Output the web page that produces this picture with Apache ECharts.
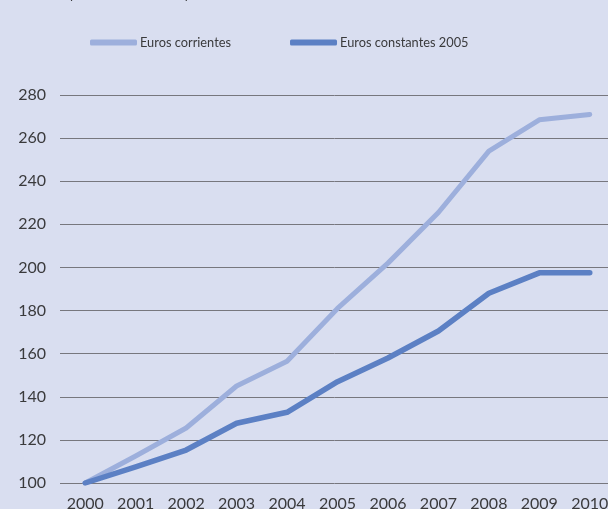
<!DOCTYPE html>
<html>
<head>
<meta charset="utf-8">
<script src="https://cdn.jsdelivr.net/npm/echarts@6/dist/echarts.min.js"></script>
<style>
  html, body { margin: 0; padding: 0; background: #d9def0; }
  #chart { width: 608px; height: 509px; }
</style>
</head>
<body>
<div id="chart"></div>
<script>
// Años del eje horizontal
const years = ['2000', '2001', '2002', '2003', '2004', '2005', '2006', '2007', '2008', '2009', '2010'];

// Índice 2000 = 100
const eurosCorrientes = [100, 112.5, 125.5, 145, 156.5, 181, 202, 225.5, 254, 268.5, 271];
const eurosConstantes = [100, 107.5, 115.3, 127.7, 132.8, 147, 158, 170.5, 188, 197.5, 197.5];

const seriesNames = ['Euros corrientes', 'Euros constantes 2005'];
const titleText = 'Gasto por alumno en la pública (números índice 2000 = 100)';

const colorLight = '#9dafdc';
const colorDark = '#5c80c4';
const fontFamily = 'Lato, "Open Sans", sans-serif';
const textColor = '#3a3a3c';

const chart = echarts.init(document.getElementById('chart'), null, { renderer: 'canvas' });

chart.setOption({
  backgroundColor: '#d9def0',
  animation: false,
  graphic: [{
    type: 'text',
    left: 28,
    top: -14,
    style: {
      text: titleText,
      fill: textColor,
      font: '14px "Open Sans", sans-serif'
    }
  }],
  legend: {
    top: 31,
    left: 85,
    itemGap: 59,
    itemWidth: 47,
    itemHeight: 6,
    icon: 'roundRect',
    textStyle: { color: textColor, fontSize: 12.8, fontFamily: fontFamily, padding: [0, 0, 0, -2] },
    data: seriesNames
  },
  grid: { left: 60, right: -7, top: 95, bottom: 26, containLabel: false, outerBoundsMode: 'none' },
  xAxis: {
    type: 'category',
    data: years,
    boundaryGap: true,
    axisLine: { show: false },
    axisTick: { show: false },
    axisLabel: { color: textColor, fontSize: 16, fontFamily: fontFamily, margin: 13 }
  },
  yAxis: {
    type: 'value',
    min: 100,
    max: 280,
    interval: 20,
    axisLine: { show: false },
    axisTick: { show: false },
    axisLabel: { color: textColor, fontSize: 16, fontFamily: fontFamily, margin: 14 },
    splitLine: { lineStyle: { color: '#77777e', width: 1 } }
  },
  series: [
    {
      name: seriesNames[0],
      type: 'line',
      data: eurosCorrientes,
      symbol: 'none',
      itemStyle: { color: colorLight },
      lineStyle: { color: colorLight, width: 5, cap: 'round', join: 'round' }
    },
    {
      name: seriesNames[1],
      type: 'line',
      data: eurosConstantes,
      symbol: 'none',
      itemStyle: { color: colorDark },
      lineStyle: { color: colorDark, width: 5.5, cap: 'round', join: 'round' }
    }
  ]
});
</script>
</body>
</html>
